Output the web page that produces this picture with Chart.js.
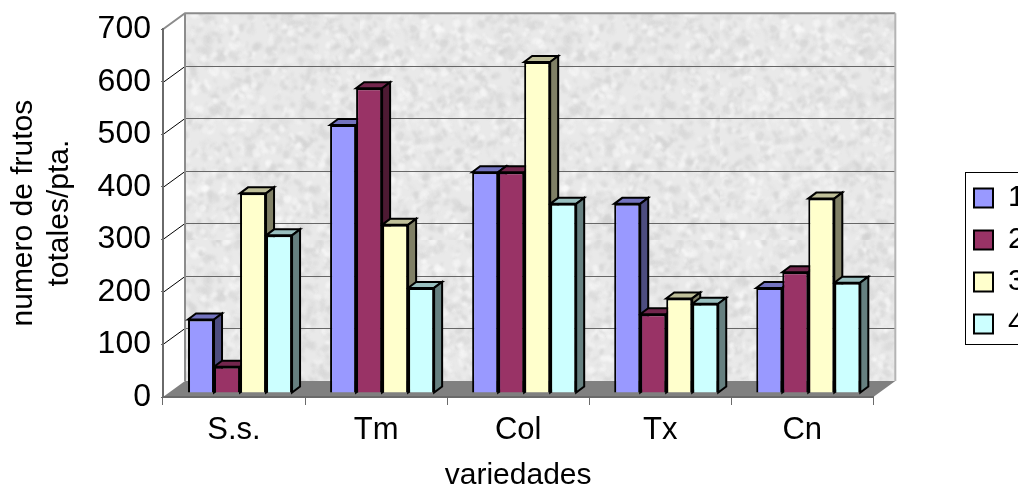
<!DOCTYPE html>
<html>
<head>
<meta charset="utf-8">
<title>frutos por variedad</title>
<script src="https://cdn.jsdelivr.net/npm/chart.js@4"></script>
<style>
  html, body { margin: 0; padding: 0; background: #fff; overflow: hidden; }
  canvas { display: block; }
</style>
</head>
<body>
<canvas id="myChart" width="1018" height="494"></canvas>
<script>
var variedades = ['S.s.', 'Tm', 'Col', 'Tx', 'Cn'];
var serie1 = [140, 510, 420, 360, 200];
var serie2 = [50, 580, 420, 150, 230];
var serie3 = [380, 320, 630, 180, 370];
var serie4 = [300, 200, 360, 170, 210];
var yTicks = [0, 100, 200, 300, 400, 500, 600, 700];

var frontColors = ['#9999ff', '#993366', '#ffffcc', '#ccffff'];
var topColors = ['#7373bf', '#73264d', '#bfbf99', '#99bfbf'];
var sideColors = ['#4d4d80', '#4d1a33', '#808066', '#668080'];

// depth of the box, of the bar row inside it, and of a single bar
var wallDx = 22, wallDy = -16;
var rowDx = 6, rowDy = -4;
var barDx = 8, barDy = -6;

var axisGray = '#6a6a6a';
var fontName = '"Liberation Sans", Arial, sans-serif';

function graniteTexture() {
    var c = document.createElement('canvas');
    c.width = 360;
    c.height = 240;
    var g = c.getContext('2d');
    g.fillStyle = '#e9e9e9';
    g.fillRect(0, 0, c.width, c.height);
    g.filter = 'blur(1.2px)';
    // small fixed-seed generator so the speckle is the same on every load
    var seed = 4711;
    function next() {
        seed = (seed * 1103515245 + 12345) % 2147483648;
        return seed / 2147483648;
    }
    for (var i = 0; i < 2600; i++) {
        var shade = next() < 0.6 ? 205 + next() * 20 : 240 + next() * 15;
        g.fillStyle = 'rgba(' + shade + ',' + shade + ',' + shade + ',0.55)';
        g.beginPath();
        g.ellipse(next() * c.width, next() * c.height, 1 + next() * 4, 1 + next() * 3, next() * 3, 0, Math.PI * 2);
        g.fill();
    }
    return c;
}

function poly(ctx, pts, fill, stroke, lw) {
    ctx.beginPath();
    ctx.moveTo(pts[0][0], pts[0][1]);
    for (var i = 1; i < pts.length; i++) {
        ctx.lineTo(pts[i][0], pts[i][1]);
    }
    ctx.closePath();
    if (fill) {
        ctx.fillStyle = fill;
        ctx.fill();
    }
    if (stroke) {
        ctx.strokeStyle = stroke;
        ctx.lineWidth = lw;
        ctx.stroke();
    }
}

// back wall, floor, gridlines and the legend frame
var boxPlugin = {
    id: 'box3d',
    afterLayout: function (chart) {
        var legend = chart.legend;
        legend.left = 962;
        legend.right = 1018;
        legend.top = 171;
        legend.bottom = 420;
    },
    beforeDraw: function (chart) {
        var ctx = chart.ctx;
        var a = chart.chartArea;
        var y = chart.scales.y;
        ctx.save();

        var wall = ctx.createPattern(graniteTexture(), 'repeat');
        ctx.fillStyle = wall;
        ctx.fillRect(a.left + wallDx, a.top + wallDy, a.right - a.left, a.bottom - a.top);

        ctx.lineWidth = 1;
        y.ticks.forEach(function (t) {
            var py = Math.round(y.getPixelForValue(t.value));
            if (t.value === 0 || t.value === 700) {
                return;
            }
            ctx.strokeStyle = '#666666';
            ctx.beginPath();
            ctx.moveTo(a.left + wallDx, py + wallDy + 0.5);
            ctx.lineTo(a.right + wallDx, py + wallDy + 0.5);
            ctx.stroke();
            ctx.strokeStyle = '#000000';
            ctx.beginPath();
            ctx.moveTo(a.left, py + 0.5);
            ctx.lineTo(a.left + wallDx, py + wallDy + 0.5);
            ctx.stroke();
        });

        // wall edges
        ctx.lineWidth = 2;
        ctx.strokeStyle = '#8c8c8c';
        ctx.beginPath();
        ctx.moveTo(a.left, a.top);
        ctx.lineTo(a.left + wallDx, a.top + wallDy);
        ctx.lineTo(a.right + wallDx, a.top + wallDy);
        ctx.stroke();
        ctx.beginPath();
        ctx.moveTo(a.left + wallDx, a.top + wallDy);
        ctx.lineTo(a.left + wallDx, a.bottom + wallDy);
        ctx.stroke();
        ctx.strokeStyle = '#b4b4b4';
        ctx.beginPath();
        ctx.moveTo(a.right + wallDx, a.top + wallDy);
        ctx.lineTo(a.right + wallDx, a.bottom + wallDy);
        ctx.stroke();

        poly(ctx, [
            [a.left, a.bottom],
            [a.right, a.bottom],
            [a.right + wallDx, a.bottom + wallDy],
            [a.left + wallDx, a.bottom + wallDy]
        ], '#808080');

        // legend frame runs off the right edge of the page
        ctx.lineWidth = 1;
        ctx.strokeStyle = '#000000';
        ctx.fillStyle = '#ffffff';
        ctx.fillRect(965.5, 172.5, 70, 172);
        ctx.strokeRect(965.5, 172.5, 70, 172);
        ctx.restore();
    },
    beforeDatasetsDraw: function (chart) {
        var ctx = chart.ctx;
        ctx.save();
        ctx.translate(rowDx, rowDy);
        ctx.lineJoin = 'miter';
        // tops and sides go left to right so each bar covers its left neighbour
        variedades.forEach(function (v, i) {
            frontColors.forEach(function (c, d) {
                var bar = chart.getDatasetMeta(d).data[i];
                var x0 = bar.x - bar.width / 2;
                var x1 = bar.x + bar.width / 2;
                poly(ctx, [
                    [x0, bar.y],
                    [x1, bar.y],
                    [x1 + barDx, bar.y + barDy],
                    [x0 + barDx, bar.y + barDy]
                ], topColors[d], '#000000', 2);
                poly(ctx, [
                    [x1, bar.y],
                    [x1 + barDx, bar.y + barDy],
                    [x1 + barDx, bar.base + barDy],
                    [x1, bar.base]
                ], sideColors[d], '#000000', 2);
            });
        });
        ctx.restore();
        // the library's own front faces sit on the same shifted row
        ctx.save();
        ctx.translate(rowDx, rowDy);
    },
    afterDatasetsDraw: function (chart) {
        chart.ctx.restore();
    }
};

function serie(label, values, d) {
    return {
        label: label,
        data: values,
        backgroundColor: frontColors[d],
        borderColor: '#000000',
        borderWidth: 2,
        categoryPercentage: 104 / 142,
        barPercentage: 1,
        clip: false
    };
}

var ctx = document.getElementById('myChart').getContext('2d');
var myChart = new Chart(ctx, {
    type: 'bar',
    data: {
        labels: variedades,
        datasets: [
            serie('1', serie1, 0),
            serie('2', serie2, 1),
            serie('3', serie3, 2),
            serie('4', serie4, 3)
        ]
    },
    plugins: [boxPlugin],
    options: {
        responsive: false,
        animation: false,
        layout: {
            padding: { top: 29, right: 72, bottom: 0, left: 0 }
        },
        plugins: {
            tooltip: { enabled: false },
            legend: {
                position: 'right',
                align: 'start',
                onClick: null,
                labels: {
                    boxWidth: 19,
                    boxHeight: 19,
                    padding: 12,
                    color: '#000000',
                    font: { family: fontName, size: 30 }
                }
            }
        },
        scales: {
            x: {
                afterFit: function (s) { s.height = 97; },
                grid: {
                    drawOnChartArea: false,
                    tickLength: 8,
                    tickColor: axisGray,
                    tickWidth: 1
                },
                border: { color: axisGray, width: 2 },
                ticks: {
                    color: '#000000',
                    padding: 7,
                    maxRotation: 0,
                    font: { family: fontName, size: 31 }
                },
                title: {
                    display: true,
                    text: 'variedades',
                    color: '#000000',
                    padding: { top: 16, bottom: 0 },
                    font: { family: fontName, size: 30 }
                }
            },
            y: {
                min: 0,
                max: 700,
                afterFit: function (s) { s.width = 163; },
                afterBuildTicks: function (s) {
                    s.ticks = yTicks.map(function (v) { return { value: v }; });
                },
                grid: {
                    drawOnChartArea: false,
                    tickLength: 2,
                    tickColor: axisGray
                },
                border: { color: axisGray, width: 2 },
                ticks: {
                    color: '#000000',
                    padding: 10,
                    font: { family: fontName, size: 32 }
                },
                title: {
                    display: true,
                    text: ['numero de frutos', 'totales/pta.'],
                    color: '#000000',
                    padding: { top: 6, bottom: 0 },
                    font: { family: fontName, size: 30, lineHeight: 1.2 }
                }
            }
        }
    }
});
</script>
</body>
</html>
